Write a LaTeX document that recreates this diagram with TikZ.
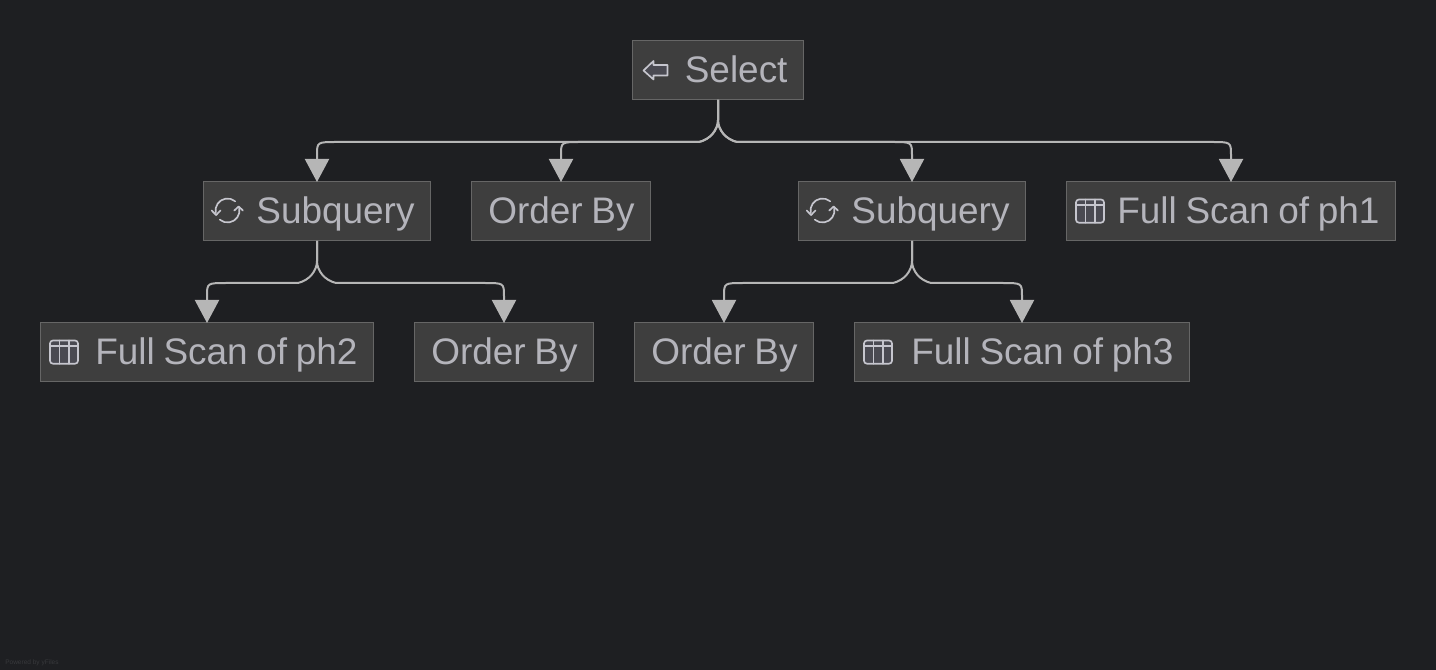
\documentclass[tikz,border=0pt]{standalone}
\usepackage{fontspec}
\setmainfont{Liberation Sans}
\usetikzlibrary{arrows.meta}
\definecolor{pagebg}{HTML}{1E1F22}
\definecolor{boxfill}{HTML}{3E3E3E}
\definecolor{boxedge}{HTML}{666666}
\definecolor{labelgrey}{HTML}{B4B4BB}
\definecolor{icongrey}{HTML}{C6C6CE}
\definecolor{icondark}{HTML}{4A4A52}
\definecolor{linkgrey}{HTML}{B6B6B6}
\definecolor{footgrey}{HTML}{38393C}
\newcommand{\opfont}{\fontsize{27.7pt}{30pt}\selectfont\spaceskip=6.5pt\relax}
\tikzset{
  opbox/.style={draw=boxedge,fill=boxfill,line width=0.75pt,text=labelgrey,align=flush right,font=\opfont,inner xsep=12pt,inner ysep=4pt,text height=27.5pt,text depth=8.75pt,outer sep=0pt,text width=#1},
  linkline/.style={draw=linkgrey,line width=1.5pt,-{Triangle[width=18pt,length=17.25pt,fill=linkgrey]}},
  iconline/.style={draw=icongrey,line width=1.25pt,line join=round,line cap=round}
}
\newcommand{\linkdown}[3]{
  \coordinate (bus) at ([yshift=-31.5pt]#1.south);
  \coordinate (corner) at (#2.north |- bus);
  \draw[linkline] (#1.south) -- ++(0,20) .. controls +(0,10) and +(#3*-11,-2.5) .. +(#3*19,22) -- ([xshift=#3*-15pt]corner) .. controls (corner) .. ([yshift=-10pt]corner) -- (#2.north);
}
\newcommand{\tableicon}[1]{
  \begin{scope}[shift={(#1.west)}]
    \draw[iconline,fill=icondark,rounded corners=2.2pt] (9.5,-12) rectangle (37.5,11.2);
    \draw[iconline] (9.5,-6.5) -- (37.5,-6.5);
    \draw[iconline] (19,-12) -- (19,11.2);
    \draw[iconline] (28.5,-12) -- (28.5,11.2);
  \end{scope}
}
\newcommand{\cycleicon}[1]{
  \begin{scope}[shift={(#1.west)}]
    \draw[iconline] (12.2,1.1) arc[start angle=190,end angle=50,radius=9pt];
    \draw[iconline] (35.8,-3.1) arc[start angle=10,end angle=-130,radius=9pt];
    \draw[iconline] (8.2,-1) -- (12.6,3.5) -- (17,-1);
    \draw[iconline] (30.8,-1) -- (35.2,-5) -- (39.4,-1);
  \end{scope}
}
\newcommand{\backicon}[1]{
  \begin{scope}[shift={(#1.west)}]
    \draw[iconline,fill=icondark] (11,0) -- (21,-9.5) -- (21,-5.5) -- (35,-5.5) -- (35,5) -- (21,5) -- (21,9) -- cycle;
  \end{scope}
}
\begin{document}
\begin{tikzpicture}[x=0.75pt,y=-0.75pt]
\useasboundingbox (0,0) rectangle (1436,670);
\fill[pagebg] (0,0) rectangle (1436,670);

\node[opbox=104.25pt] (select) at (718,70.5) {Select};
\node[opbox=146.25pt] (subqueryleft) at (317,211.5) {Subquery};
\node[opbox=110.25pt] (orderbytop) at (561,211.5) {Order By};
\node[opbox=146.25pt] (subqueryright) at (912,211.5) {Subquery};
\node[opbox=222.75pt] (scanone) at (1231,211.5) {Full Scan of ph1};
\node[opbox=225.75pt] (scantwo) at (207,352.5) {Full Scan of ph2};
\node[opbox=110.25pt] (orderbyleft) at (504,352.5) {Order By};
\node[opbox=110.25pt] (orderbyright) at (724,352.5) {Order By};
\node[opbox=227.25pt] (scanthree) at (1022,352.5) {Full Scan of ph3};

\backicon{select}
\cycleicon{subqueryleft}
\cycleicon{subqueryright}
\tableicon{scanone}
\tableicon{scantwo}
\tableicon{scanthree}

\linkdown{select}{subqueryleft}{-1}
\linkdown{select}{orderbytop}{-1}
\linkdown{select}{subqueryright}{1}
\linkdown{select}{scanone}{1}
\linkdown{subqueryleft}{scantwo}{-1}
\linkdown{subqueryleft}{orderbyleft}{1}
\linkdown{subqueryright}{orderbyright}{-1}
\linkdown{subqueryright}{scanthree}{1}

\node[anchor=base west,inner sep=0pt,text=footgrey,font=\fontsize{4.9pt}{6pt}\selectfont] (poweredby) at (5,664) {Powered by yFiles};
\end{tikzpicture}
\end{document}
